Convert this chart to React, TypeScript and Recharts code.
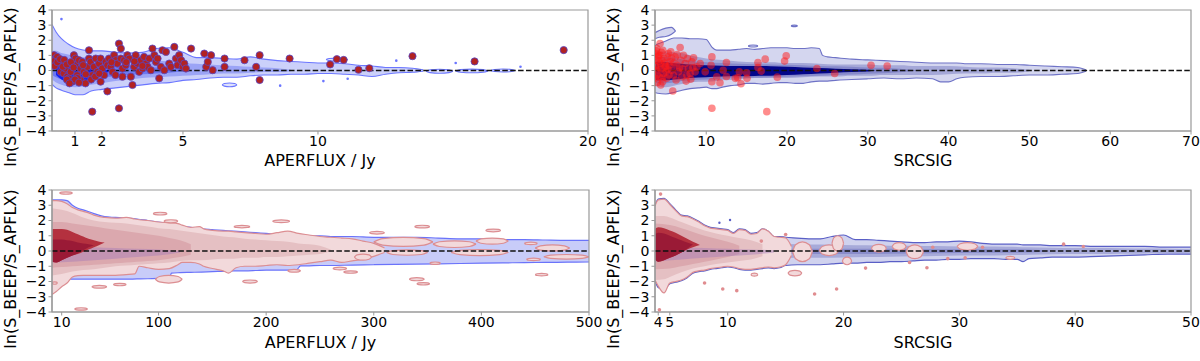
import React from 'react';
import { ComposedChart, Area, Scatter, XAxis, YAxis, ReferenceLine, ReferenceArea } from 'recharts';

// ================= TOP-LEFT : APERFLUX / Jy (0.15 .. 20) =================
const tlTicks = [1, 2, 5, 10, 20];
const tlOuterX = [0.15, 0.3, 0.5, 0.75, 1, 1.3, 1.6, 2, 2.5, 3, 3.5, 4, 4.5, 5, 5.5, 6, 6.5, 7, 7.5, 8, 8.5, 9, 9.5, 10, 10.5, 11, 11.5, 12, 12.5, 13, 13.5, 13.9];
const tlOuterHi = [3.05, 2.55, 2.1, 1.75, 1.5, 1.35, 1.3, 1.3, 1.2, 1.15, 1.2, 1.45, 1.5, 1.2, 0.85, 0.85, 0.8, 0.75, 0.9, 0.75, 0.65, 0.6, 0.55, 0.5, 0.5, 0.45, 0.35, 0.3, 0.2, 0.2, 0.15, 0.05];
const tlOuterLo = [-0.9, -1.15, -1.3, -1.45, -1.6, -1.6, -1.35, -1.25, -1.15, -1.05, -0.95, -0.85, -0.8, -0.65, -0.6, -0.5, -0.45, -0.45, -0.35, -0.3, -0.3, -0.25, -0.25, -0.2, -0.2, -0.25, -0.3, -0.4, -0.25, -0.15, -0.12, -0.05];
const tlMidX = [0.15, 0.3, 0.5, 0.75, 1, 1.3, 1.6, 2, 2.5, 3, 3.5, 4, 4.5, 5, 5.5, 6, 6.5, 7, 7.5, 8, 8.5, 9];
const tlMidHi = [1.3, 1.3, 1.15, 1.05, 0.95, 0.9, 0.85, 0.8, 0.75, 0.75, 0.7, 0.65, 0.6, 0.5, 0.45, 0.4, 0.35, 0.3, 0.25, 0.2, 0.15, 0.05];
const tlMidLo = [-0.6, -0.8, -0.95, -1.05, -1.1, -1.05, -0.95, -0.85, -0.7, -0.6, -0.5, -0.45, -0.4, -0.35, -0.3, -0.25, -0.2, -0.2, -0.15, -0.1, -0.1, -0.05];
const tlInnerX = [0.15, 0.3, 0.5, 0.75, 1, 1.3, 1.6, 2, 2.5, 3, 3.5, 4, 4.5, 5];
const tlInnerHi = [0.7, 0.7, 0.6, 0.55, 0.5, 0.45, 0.4, 0.35, 0.3, 0.3, 0.25, 0.2, 0.15, 0.05];
const tlInnerLo = [-0.3, -0.45, -0.6, -0.65, -0.65, -0.6, -0.55, -0.45, -0.4, -0.3, -0.25, -0.2, -0.15, -0.05];
const tlCoreX = [0.3, 0.5, 0.75, 1, 1.3, 1.6, 2, 2.3];
const tlCoreHi = [0.35, 0.4, 0.35, 0.3, 0.25, 0.2, 0.1, 0];
const tlCoreLo = [-0.3, -0.6, -0.8, -0.8, -0.7, -0.55, -0.35, 0];
// islands: [xStart, xEnd, yCentre, halfHeight]
const tlIslands = [[6.45, 7.0, -0.95, 0.12], [10.3, 11.1, 0.72, 0.1], [14.0, 15.0, -0.05, 0.13], [15.1, 16.3, -0.03, 0.12], [16.4, 17.3, 0.0, 0.1]];
const tlSpecks: [number, number][] = [[0.5, 3.4], [8.6, -1.0], [10.2, -0.7], [11.1, -0.55], [12.9, 0.65], [15.1, 0.5], [17.5, 0.25]];
const tlPoints: [number, number][] = [
  [0.22, 1.01], [0.28, 0.79], [0.34, 0.9], [0.4, 0.46], [0.53, 0.57], [0.47, -0.09], [0.59, -0.2], [0.65, 0.13], [0.71, -0.41], [0.78, -0.52],
  [0.84, -0.09], [0.9, -0.74], [0.96, 1.01], [1.02, 0.79], [1.02, 0.35], [1.08, -0.31], [1.15, 0.68], [1.21, 0.13], [1.21, -0.63], [1.27, 0.57],
  [1.33, -0.09], [1.39, -0.85], [1.46, 0.24], [1.52, 1.34], [1.52, 0.79], [1.58, 0.57], [1.64, -0.31], [1.64, -2.72], [1.7, 0.24], [1.77, 0.79],
  [1.83, -0.09], [1.89, 0.46], [1.95, 0.79], [1.95, -0.74], [2.01, 0.13], [2.08, -0.31], [2.14, 0.57], [2.2, 0.35], [2.26, 0.79], [2.32, 0.24],
  [2.39, -0.09], [2.45, 1.01], [2.51, 0.68], [2.57, 0.46], [2.63, 1.78], [2.63, -2.5], [2.7, 1.45], [2.7, 0.79], [2.76, 0.13], [2.76, -0.41],
  [2.82, 0.68], [2.88, 0.35], [2.94, 1.01], [3.01, 0.79], [3.07, -0.41], [3.13, -0.96], [3.19, 0.24], [3.25, 1.01], [3.32, 0.46], [3.38, -0.09],
  [3.44, 0.68], [3.5, 0.13], [3.56, 0.9], [3.63, 0.46], [3.69, 0.24], [3.75, 0.79], [3.81, 0.02], [3.87, 1.45], [3.94, 1.01], [4.0, 0.57],
  [4.06, 0.79], [4.12, -0.52], [4.18, 0.24], [4.24, 1.34], [4.31, 0.02], [4.37, 1.23], [4.49, 0.46], [4.55, 0.24], [4.68, 1.56], [4.74, 0.79],
  [4.8, 0.35], [4.86, 1.01], [4.93, 0.68], [4.99, 0.24], [5.05, 0.46], [5.11, 0.13], [5.3, 1.45], [5.79, 1.12], [5.86, 0.24], [5.92, 0.57],
  [6.04, 1.01], [6.1, 0.02], [6.54, 0.24], [6.54, 0.79], [7.28, 0.68], [7.71, 0.24], [7.84, 1.01], [7.84, -0.63], [8.95, 0.79], [10.45, 0.4],
  [10.7, 0.75], [10.95, 0.7], [11.5, 0.05], [11.9, 0.15], [13.5, 0.95], [15.8, 0.6], [19.1, 1.35], [2.2, -1.38], [0.2, 0.6], [0.25, 0.3],
  [0.35, 0.55], [0.45, 0.75], [0.55, 0.25], [0.6, 0.7], [0.7, 0.4], [0.85, 0.55], [0.95, 0.2], [1.1, -0.5], [1.3, 0.35], [1.6, -0.6],
  [1.75, -0.4], [1.9, -0.2], [2.5, -0.3], [0.7, -0.6], [1.4, -0.25], [2.9, 0.55], [3.2, 0.6], [3.5, 0.3], [2.35, 0.55], [1.0, -0.6],
  [1.15, -0.8], [0.8, -0.85],
];

// ================= TOP-RIGHT : SRCSIG (3.66 .. 70) =================
const trTicks = [10, 20, 30, 40, 50, 60, 70];
const trOuterX = [3.66, 4, 5, 6, 7, 8, 9, 10, 10.7, 11.3, 12, 13, 14, 15, 16, 17, 18, 19, 20, 21, 22, 23, 24, 24.4, 25, 26, 28, 30, 32, 34, 36, 38, 39, 40, 41, 42, 44, 46, 48, 50, 52, 54, 56, 57];
const trOuterHi = [1.65, 1.75, 1.95, 2.15, 2.15, 2.1, 2.1, 2.05, 1.55, 1.35, 1.35, 1.35, 1.4, 1.45, 1.4, 1.45, 1.5, 1.5, 1.5, 1.45, 1.45, 1.5, 1.45, 1.0, 0.9, 0.85, 0.75, 0.7, 0.65, 0.6, 0.55, 0.5, 0.5, 0.5, 0.5, 0.45, 0.45, 0.4, 0.4, 0.35, 0.3, 0.25, 0.2, 0.05];
const trOuterLo = [-1.45, -1.5, -1.55, -1.45, -1.3, -1.2, -1.15, -1.1, -1.2, -1.2, -1.1, -1.0, -0.95, -0.85, -0.85, -0.9, -0.85, -0.8, -0.8, -0.85, -0.85, -0.75, -0.7, -0.7, -0.7, -0.65, -0.6, -0.55, -0.5, -0.55, -0.5, -0.55, -0.75, -0.75, -0.55, -0.45, -0.4, -0.4, -0.35, -0.3, -0.3, -0.25, -0.2, -0.05];
const trMidX = [3.66, 4, 5, 6, 7, 8, 9, 10, 12, 14, 16, 18, 20, 22, 24, 26, 28, 30, 32, 34, 36, 38, 40, 42, 44, 46, 48, 50];
const trMidHi = [1.2, 1.25, 1.25, 1.2, 1.15, 1.0, 0.9, 0.8, 0.7, 0.6, 0.55, 0.55, 0.5, 0.5, 0.45, 0.4, 0.4, 0.4, 0.35, 0.35, 0.3, 0.3, 0.3, 0.25, 0.2, 0.2, 0.15, 0.05];
const trMidLo = [-1.0, -1.05, -1.1, -1.0, -0.9, -0.8, -0.75, -0.75, -0.65, -0.6, -0.5, -0.5, -0.5, -0.45, -0.4, -0.4, -0.35, -0.35, -0.3, -0.3, -0.3, -0.3, -0.25, -0.2, -0.2, -0.15, -0.15, -0.05];
const trInnerX = [3.66, 4, 5, 6, 7, 8, 10, 12, 14, 16, 18, 20, 22, 24, 26, 28, 30, 32, 34, 36];
const trInnerHi = [0.85, 0.9, 0.9, 0.85, 0.75, 0.65, 0.55, 0.5, 0.45, 0.42, 0.4, 0.38, 0.35, 0.3, 0.28, 0.25, 0.2, 0.18, 0.12, 0.02];
const trInnerLo = [-0.8, -0.85, -0.85, -0.8, -0.7, -0.65, -0.6, -0.55, -0.5, -0.48, -0.45, -0.42, -0.38, -0.35, -0.3, -0.27, -0.22, -0.18, -0.12, -0.02];
const trCoreX = [3.66, 4, 5, 6, 7, 8, 10, 12, 14, 16, 18, 20, 22, 24, 26, 28, 30, 31];
const trCoreHi = [0.55, 0.6, 0.55, 0.5, 0.45, 0.4, 0.35, 0.32, 0.3, 0.3, 0.28, 0.25, 0.2, 0.16, 0.12, 0.08, 0.05, 0.02];
const trCoreLo = [-0.6, -0.65, -0.65, -0.6, -0.55, -0.5, -0.45, -0.4, -0.38, -0.36, -0.34, -0.3, -0.25, -0.2, -0.15, -0.1, -0.06, 0.02];
const trLobeX = [3.66, 4.2, 5, 5.7, 6.2];
const trLobeHi = [2.5, 2.65, 2.8, 2.85, 2.6];
const trLobeLo = [2.1, 2.2, 2.25, 2.4, 2.6];
const trIslands = [[15.2, 16.4, 1.62, 0.07], [20.5, 21.3, 2.95, 0.05]];
const trPoints: [number, number][] = [
  [3.87, 1.45], [4.08, 1.01], [3.79, 0.68], [4.28, 0.46], [3.87, 0.02], [4.2, -0.41], [3.95, -0.79], [4.37, -0.96], [4.62, 1.34], [4.78, 0.79],
  [4.91, 0.24], [4.7, -0.2], [5.11, -0.52], [5.32, 1.12], [5.53, 0.57], [5.73, 0.02], [5.94, -0.31], [5.86, -1.36], [6.15, 0.9], [6.35, 0.35],
  [6.56, -0.09], [6.77, 1.52], [6.85, 0.68], [6.98, -0.41], [7.18, 1.01], [7.39, 0.46], [7.51, -0.7], [7.68, 0.79], [7.8, 0.13], [8.01, -0.2],
  [8.22, 0.57], [8.43, 0.84], [8.63, -0.09], [8.84, 0.24], [9.25, 0.46], [9.87, -0.09], [4.28, 1.01], [4.49, 0.68], [3.75, 1.12], [5.03, -0.09],
  [5.44, 0.35], [5.61, 1.23], [6.27, -0.63], [6.69, 0.18], [7.1, 0.09], [7.6, -0.31], [8.09, -0.57], [8.34, 0.18], [4.28, 1.78], [3.8, 1.3],
  [4.0, 0.9], [4.15, 0.2], [4.4, 0.1], [4.55, -0.5], [4.85, 0.5], [5.2, 0.9], [5.0, 0.3], [5.4, -0.3], [5.7, 0.8], [6.0, 0.5],
  [6.4, 1.05], [4.6, -0.75], [3.9, -0.3], [4.1, 0.6], [3.7, 0.3], [3.7, -0.5], [4.45, 1.2], [5.25, 0.1], [10.7, 0.9], [10.6, 0.35],
  [10.7, -0.74], [11.7, -0.81], [11.3, -0.41], [12.1, 0.02], [12.5, 0.53], [12.5, -0.4], [13.6, -0.52], [13.9, -0.48], [14.3, -0.88], [14.1, -0.09],
  [15.0, -0.15], [15.05, -0.52], [16.4, 0.53], [16.4, 0.2], [16.8, -0.04], [17.3, 0.75], [18.8, -0.44], [19.7, 0.62], [19.9, 0.97], [23.7, 0.13],
  [25.9, -0.2], [30.4, 0.35], [32.4, 0.29], [10.7, -2.5], [17.5, -2.72],
];

// ================= BOTTOM-LEFT : APERFLUX / Jy (1 .. 500) =================
const blTicks = [10, 100, 200, 300, 400, 500];
const blBlueX = [1, 10, 15, 20, 25, 30, 40, 50, 60, 70, 80, 90, 100, 110, 112, 120, 130, 140, 150, 160, 170, 180, 190, 200, 210, 220, 228, 232, 240, 250, 260, 280, 300, 320, 340, 360, 380, 400, 420, 440, 460, 480, 500];
const blBlueHi = [3.35, 3.35, 3.3, 3.0, 2.8, 2.7, 2.45, 2.25, 2.2, 2.15, 2.1, 2.0, 1.9, 1.8, 1.78, 1.65, 1.55, 1.45, 1.4, 1.35, 1.3, 1.25, 1.2, 1.15, 1.1, 1.05, 1.05, 1.05, 1.0, 1.0, 0.95, 0.95, 0.9, 0.9, 0.9, 0.85, 0.8, 0.8, 0.75, 0.75, 0.72, 0.7, 0.7];
const blBlueLo = [-1.85, -1.85, -1.85, -1.85, -1.85, -1.85, -1.85, -1.85, -1.85, -1.85, -1.83, -1.82, -1.8, -1.8, -1.45, -1.42, -1.4, -1.38, -1.35, -1.33, -1.3, -1.3, -1.28, -1.25, -1.25, -1.25, -1.25, -0.98, -0.97, -0.95, -0.95, -0.92, -0.9, -0.88, -0.86, -0.84, -0.82, -0.8, -0.78, -0.76, -0.75, -0.73, -0.72];
const blBlueMidX = [180, 200, 220, 240, 260, 280, 295];
const blBlueMidHi = [0.1, 0.1, 0.05, 0.05, 0.0, -0.05, -0.15];
const blBlueMidLo = [-0.3, -0.35, -0.35, -0.35, -0.35, -0.3, -0.2];
const blPinkX = [1, 5, 10, 15, 20, 25, 30, 35, 40, 45, 50, 60, 70, 78, 82, 90, 100, 110, 118, 122, 130, 138, 142, 150, 160, 165, 172, 180, 190, 200, 210, 220, 230, 240, 250, 260, 270, 280, 290, 300, 310];
const blPinkHi = [3.3, 3.3, 3.25, 3.1, 2.85, 2.7, 2.6, 2.5, 2.35, 2.25, 2.2, 2.15, 2.2, 2.1, 2.05, 2.0, 1.9, 1.85, 1.8, 1.7, 1.55, 1.6, 1.45, 1.35, 1.3, 1.3, 1.25, 1.2, 1.15, 1.1, 1.2, 1.3, 1.15, 1.05, 0.95, 0.9, 0.85, 0.8, 0.65, 0.5, 0.2];
const blPinkLo = [-2.85, -2.65, -2.35, -2.1, -1.7, -1.62, -1.6, -1.6, -1.6, -1.6, -1.6, -1.6, -1.55, -1.5, -1.0, -1.1, -1.2, -1.15, -0.9, -0.75, -0.75, -0.85, -1.0, -1.15, -1.3, -1.45, -1.1, -1.0, -1.0, -0.95, -0.9, -0.95, -0.9, -0.8, -0.7, -0.6, -0.75, -0.65, -0.55, -0.35, -0.1];
const blPinkMidX = [1, 10, 20, 30, 40, 50, 60, 70, 80, 90, 100, 110, 120, 130, 140, 150, 160, 170, 180, 190, 200, 210, 220, 230, 240, 250, 260];
const blPinkMidHi = [2.8, 2.7, 2.5, 2.2, 2.0, 1.9, 1.85, 1.8, 1.7, 1.6, 1.5, 1.45, 1.35, 1.25, 1.15, 1.05, 0.95, 0.9, 0.8, 0.75, 0.7, 0.65, 0.6, 0.5, 0.45, 0.35, 0.1];
const blPinkMidLo = [-1.6, -1.5, -1.35, -1.25, -1.2, -1.1, -1.0, -0.95, -0.9, -0.85, -0.8, -0.75, -0.65, -0.6, -0.6, -0.55, -0.5, -0.5, -0.45, -0.45, -0.4, -0.4, -0.35, -0.3, -0.25, -0.2, 0.0];
const blPink3X = [1, 10, 20, 30, 40, 50, 60, 70, 80, 90, 100, 110, 120, 130];
const blPink3Hi = [1.9, 1.9, 1.8, 1.7, 1.6, 1.5, 1.4, 1.3, 1.2, 1.1, 1.0, 0.85, 0.7, 0.45];
const blPink3Lo = [-1.1, -1.05, -1.0, -0.95, -0.9, -0.85, -0.8, -0.75, -0.7, -0.65, -0.6, -0.5, -0.4, -0.25];
const blPurpleX = [1, 20, 40, 60, 80, 100, 120];
const blPurpleHi = [0.35, 0.3, 0.25, 0.2, 0.15, 0.1, 0.0];
const blPurpleLo = [-0.75, -0.7, -0.6, -0.5, -0.4, -0.3, -0.1];
const blCrimsonX = [1, 5, 10, 15, 20, 25, 30, 35, 40, 45, 50];
const blCrimsonHi = [1.45, 1.45, 1.45, 1.4, 1.25, 1.1, 0.95, 0.8, 0.7, 0.6, 0.55];
const blCrimsonLo = [-0.7, -0.75, -0.6, -0.45, -0.3, -0.2, -0.05, 0.1, 0.25, 0.4, 0.55];
const blDarkX = [1, 5, 10, 15, 20, 25, 30, 35, 40];
const blDarkHi = [0.75, 0.75, 0.75, 0.7, 0.65, 0.55, 0.5, 0.45, 0.38];
const blDarkLo = [-0.7, -0.75, -0.6, -0.45, -0.3, -0.15, 0.05, 0.25, 0.38];
const blIslands = [
  [300, 355, 0.6, 0.3], [312, 350, -0.1, 0.18], [355, 395, 0.45, 0.22], [372, 425, -0.1, 0.2], [395, 425, 0.65, 0.2],
  [450, 482, 0.2, 0.2], [458, 500, -0.38, 0.15], [282, 298, -0.4, 0.2], [97, 122, -1.85, 0.25],
  [8, 20, 3.8, 0.08], [95, 108, 2.45, 0.09], [105, 118, 1.95, 0.1], [170, 185, 1.6, 0.08], [206, 222, 1.95, 0.09],
  [296, 310, 1.2, 0.09], [338, 352, 1.6, 0.09], [404, 418, 1.35, 0.09], [440, 452, 0.5, 0.08], [442, 455, -0.55, 0.08],
  [450, 462, -1.55, 0.08], [333, 347, -1.85, 0.1], [340, 352, -2.15, 0.08], [178, 192, -2.0, 0.1], [58, 70, -2.2, 0.08],
  [38, 52, -2.35, 0.09], [22, 34, -3.8, 0.08], [352, 362, -0.8, 0.08], [220, 232, -1.3, 0.09], [262, 275, -1.15, 0.09],
  [272, 285, -1.38, 0.08], [1, 6, -2.1, 0.08],
];

// ================= BOTTOM-RIGHT : SRCSIG (3.72 .. 50) =================
const brTicks = [4, 5, 10, 20, 30, 40, 50];
const brBlueX = [3.72, 4, 4.5, 5, 5.5, 6, 6.5, 7, 7.5, 8, 8.5, 9, 9.5, 10, 10.5, 11, 11.5, 12, 12.5, 13, 13.5, 14, 14.5, 15, 16, 17, 18, 19, 20, 21, 22, 23, 24, 25, 26, 27, 28, 29, 30, 31, 32, 33, 34, 35, 35.5, 36, 37, 38, 40, 42, 44, 46, 48, 50];
const brBlueHi = [3.0, 3.4, 3.45, 3.1, 2.7, 2.35, 2.3, 2.15, 1.95, 1.7, 1.55, 1.5, 1.45, 1.4, 1.2, 1.45, 1.4, 1.15, 1.2, 1.45, 1.3, 0.95, 0.95, 0.9, 0.85, 0.8, 0.8, 0.95, 1.05, 0.75, 0.75, 0.7, 0.65, 0.6, 0.55, 0.55, 0.6, 0.6, 0.65, 0.6, 0.5, 0.45, 0.45, 0.45, 0.4, 0.4, 0.4, 0.35, 0.35, 0.3, 0.3, 0.3, 0.25, 0.25];
const brBlueLo = [-1.95, -2.4, -2.55, -2.15, -2.05, -1.95, -1.75, -1.45, -1.35, -1.3, -1.2, -1.15, -1.1, -1.05, -1.1, -1.2, -1.25, -1.25, -1.2, -1.15, -1.1, -1.15, -1.1, -0.95, -0.9, -0.9, -0.9, -0.85, -0.8, -0.8, -0.75, -0.75, -0.7, -0.7, -0.65, -0.6, -0.6, -0.55, -0.55, -0.5, -0.5, -0.5, -0.55, -0.55, -0.7, -0.5, -0.45, -0.4, -0.4, -0.35, -0.3, -0.25, -0.2, -0.2];
const brBlueMidX = [3.72, 6, 8, 10, 12, 14, 16, 18, 20, 22, 24, 26, 28, 30, 32, 34, 36, 38, 40, 42, 44, 46, 48, 50];
const brBlueMidHi = [1.5, 1.2, 0.9, 0.7, 0.6, 0.5, 0.45, 0.42, 0.4, 0.38, 0.35, 0.35, 0.32, 0.3, 0.3, 0.28, 0.25, 0.22, 0.2, 0.2, 0.18, 0.16, 0.15, 0.12];
const brBlueMidLo = [-1.3, -1.0, -0.8, -0.65, -0.55, -0.5, -0.45, -0.45, -0.42, -0.4, -0.38, -0.35, -0.33, -0.3, -0.3, -0.28, -0.25, -0.22, -0.2, -0.2, -0.18, -0.16, -0.15, -0.12];
const brBlueInX = [13, 16, 20, 24, 28, 32, 36, 38];
const brBlueInHi = [0.1, 0.15, 0.15, 0.15, 0.12, 0.12, 0.1, 0.0];
const brBlueInLo = [-0.15, -0.2, -0.2, -0.18, -0.15, -0.12, -0.1, 0.0];
const brPinkX = [3.72, 4, 4.5, 5, 5.5, 6, 6.5, 7, 7.5, 8, 8.5, 9, 9.5, 10, 10.5, 11, 11.5, 12, 12.5, 13, 13.5, 14, 14.5, 15, 15.5];
const brPinkHi = [2.95, 3.35, 3.4, 3.05, 2.65, 2.3, 2.25, 2.1, 1.9, 1.65, 1.5, 1.45, 1.4, 1.35, 1.15, 1.4, 1.35, 1.1, 1.15, 1.45, 1.3, 0.95, 0.9, 0.85, 0.3];
const brPinkLo = [-1.9, -2.3, -2.75, -2.1, -2.0, -1.9, -1.7, -1.4, -1.3, -1.25, -1.15, -1.1, -1.05, -1.0, -1.05, -1.15, -1.2, -1.2, -1.15, -1.1, -1.05, -1.1, -1.05, -0.9, -0.3];
const brPinkMidX = [3.72, 4.5, 5, 6, 7, 8, 9, 10, 11, 12, 13];
const brPinkMidHi = [2.3, 2.3, 2.2, 1.9, 1.6, 1.35, 1.15, 1.0, 0.85, 0.7, 0.45];
const brPinkMidLo = [-1.9, -1.85, -1.7, -1.4, -1.15, -1.0, -0.85, -0.75, -0.65, -0.55, -0.35];
const brPink3X = [3.72, 5, 6, 7, 8, 9, 10, 11];
const brPink3Hi = [1.8, 1.7, 1.5, 1.25, 1.0, 0.8, 0.6, 0.35];
const brPink3Lo = [-1.2, -1.15, -1.0, -0.85, -0.7, -0.55, -0.4, -0.2];
const brPurpleX = [3.72, 6, 8, 10, 12, 14];
const brPurpleHi = [0.3, 0.25, 0.2, 0.15, 0.1, 0.05];
const brPurpleLo = [-0.7, -0.55, -0.45, -0.35, -0.25, -0.1];
const brCrimsonX = [3.72, 4, 4.5, 5, 5.5, 6, 6.5, 7, 7.6];
const brCrimsonHi = [1.45, 1.55, 1.5, 1.35, 1.2, 1.0, 0.8, 0.6, 0.4];
const brCrimsonLo = [-0.55, -0.7, -0.6, -0.45, -0.3, -0.1, 0.1, 0.25, 0.4];
const brDarkX = [3.72, 4, 4.5, 5, 5.5, 6, 6.5, 7];
const brDarkHi = [1.1, 1.2, 1.15, 1.0, 0.85, 0.7, 0.55, 0.42];
const brDarkLo = [-0.55, -0.7, -0.6, -0.45, -0.3, -0.1, 0.15, 0.42];
const brIslands = [
  [15.6, 17.3, -0.05, 0.65], [17.9, 19.6, 0.05, 0.35], [19.0, 20.0, 0.5, 0.5], [19.9, 20.7, -0.65, 0.25], [22.4, 23.7, 0.18, 0.25],
  [24.2, 25.4, 0.3, 0.25], [25.4, 26.9, -0.05, 0.45], [29.8, 31.6, 0.3, 0.25], [34.0, 34.8, -0.45, 0.1], [15.2, 16.4, -1.45, 0.18],
  [12.0, 12.6, -1.55, 0.1],
];
const brPinkSpecks: [number, number][] = [
  [4.2, 3.73], [4.1, -3.86], [8.0, -2.1], [9.57, -2.49], [10.78, -2.6], [15.0, 1.08], [17.5, -2.82], [19.4, -2.49], [21.9, -1.12],
  [12.9, 0.65], [25.7, -0.75], [27.2, -1.1], [29.0, -0.5], [30.5, -0.45], [27.7, 0.25], [32.0, 0.25], [39.0, 0.45], [40.7, 0.3],
];
const brBlueSpecks: [number, number][] = [[9.28, 1.85], [10.2, 2.03]];

const yTicks = [-4, -3, -2, -1, 0, 1, 2, 3, 4];

// ---------------------------------------------------------------------------
type Level = { xs: number[]; lo: number[]; hi: number[]; fill: string; stroke?: string; sw?: number; op?: number };
type IslandSet = { list: number[][]; fill: string; stroke: string; sw?: number };
type Specks = { pts: [number, number][]; fill: string; r: number; stroke?: string; op?: number };

function buildRows(prefix: string, levels: Level[], islandSets: IslandSet[]) {
  const rows: any[] = [];
  levels.forEach((lv, li) => {
    const key = `${prefix}L${li}`;
    lv.xs.forEach((x, i) => rows.push({ x, [key]: [lv.lo[i], lv.hi[i]] }));
  });
  islandSets.forEach((set, si) =>
    set.list.forEach(([x0, x1, c, h], j) => {
      const key = `${prefix}I${si}_${j}`;
      const w = x1 - x0;
      rows.push({ x: x0, [key]: [c, c] });
      rows.push({ x: x0 + 0.15 * w, [key]: [c - 0.71 * h, c + 0.71 * h] });
      rows.push({ x: x0 + 0.5 * w, [key]: [c - h, c + h] });
      rows.push({ x: x1 - 0.15 * w, [key]: [c - 0.71 * h, c + 0.71 * h] });
      rows.push({ x: x1, [key]: [c, c] });
    })
  );
  rows.sort((a, b) => a.x - b.x);
  return rows;
}

const fmtY = (v: number) => (v < 0 ? '\u2212' + Math.abs(v) : String(v));
const FONT = 'DejaVu Sans';

type PanelProps = {
  id: string;
  width: number;
  height: number;
  margin: { top: number; right: number; bottom: number; left: number };
  yWidth: number;
  xHeight: number;
  labelOffset: number;
  domain: [number, number];
  ticks: number[];
  xLabel: string;
  levels: Level[];
  islands: IslandSet[];
  specks: Specks[];
  points?: { pts: [number, number][]; fill: string; stroke?: string; sw?: number; r: number; op?: number };
};

function Panel(p: PanelProps) {
  const rows = buildRows(p.id, p.levels, p.islands);
  const pointsData = p.points ? p.points.pts.map(([x, y]) => ({ x, y })) : [];
  return (
    <ComposedChart width={p.width} height={p.height} data={rows} margin={p.margin}>
      <XAxis
        type="number"
        dataKey="x"
        domain={p.domain}
        ticks={p.ticks}
        interval={0}
        allowDataOverflow
        height={p.xHeight}
        tickSize={3.5}
        tickMargin={2}
        axisLine={{ stroke: '#999', strokeWidth: 1.2 }}
        tickLine={{ stroke: '#999' }}
        tick={{ fontSize: 14, fill: '#000', fontFamily: FONT }}
        label={{ value: p.xLabel, position: 'insideBottom', offset: p.labelOffset, fontSize: 16, fill: '#000', fontFamily: FONT }}
      />
      <YAxis
        type="number"
        domain={[-4, 4]}
        ticks={yTicks}
        interval={0}
        allowDataOverflow
        width={p.yWidth}
        tickSize={3.5}
        tickMargin={2}
        tickFormatter={fmtY}
        axisLine={{ stroke: '#999', strokeWidth: 1.2 }}
        tickLine={{ stroke: '#999' }}
        tick={{ fontSize: 14, fill: '#000', fontFamily: FONT }}
      />
      {p.levels.map((lv, li) => (
        <Area
          key={`${p.id}L${li}`}
          dataKey={`${p.id}L${li}`}
          type="monotone"
          connectNulls
          isAnimationActive={false}
          fill={lv.fill}
          fillOpacity={lv.op ?? 1}
          stroke={lv.stroke ?? 'none'}
          strokeWidth={lv.sw ?? 1.2}
          dot={false}
          activeDot={false}
        />
      ))}
      {p.islands.map((set, si) =>
        set.list.map((_, j) => (
          <Area
            key={`${p.id}I${si}_${j}`}
            dataKey={`${p.id}I${si}_${j}`}
            type="monotone"
            connectNulls
            isAnimationActive={false}
            fill={set.fill}
            fillOpacity={1}
            stroke={set.stroke}
            strokeWidth={set.sw ?? 1.2}
            dot={false}
            activeDot={false}
          />
        ))
      )}
      <ReferenceLine y={0} stroke="#111" strokeWidth={1.4} strokeDasharray="5.5 2.4" />
      {p.specks.map((s, si) => (
        <Scatter
          key={`${p.id}S${si}`}
          data={s.pts.map(([x, y]) => ({ x, y }))}
          dataKey="y"
          isAnimationActive={false}
          shape={(props: any) => (
            <circle cx={props.cx} cy={props.cy} r={s.r} fill={s.fill} fillOpacity={s.op ?? 1} stroke={s.stroke ?? 'none'} />
          )}
        />
      ))}
      {p.points && (
        <Scatter
          data={pointsData}
          dataKey="y"
          isAnimationActive={false}
          shape={(props: any) => (
            <circle
              cx={props.cx}
              cy={props.cy}
              r={p.points!.r}
              fill={p.points!.fill}
              fillOpacity={p.points!.op ?? 1}
              stroke={p.points!.stroke ?? 'none'}
              strokeWidth={p.points!.sw ?? 0}
            />
          )}
        />
      )}
      <ReferenceArea x1={p.domain[0]} x2={p.domain[1]} y1={-4} y2={4} fill="none" stroke="#999" strokeWidth={1.2} ifOverflow="visible" />
    </ComposedChart>
  );
}

// colours
const PINK_OUT = '#f2d9db';
const PINK_LINE = '#dc8e92';

const tlLevels: Level[] = [
  { xs: tlOuterX, lo: tlOuterLo, hi: tlOuterHi, fill: '#cbd0fa', stroke: '#6b76ff', sw: 1.1 },
  { xs: tlMidX, lo: tlMidLo, hi: tlMidHi, fill: '#9ba4f6' },
  { xs: tlInnerX, lo: tlInnerLo, hi: tlInnerHi, fill: '#6c78f2' },
  { xs: tlCoreX, lo: tlCoreLo, hi: tlCoreHi, fill: '#0f1ff5' },
];
const trLevels: Level[] = [
  { xs: trOuterX, lo: trOuterLo, hi: trOuterHi, fill: '#d4d6ef', stroke: '#6e72c6', sw: 1.1 },
  { xs: trLobeX, lo: trLobeLo, hi: trLobeHi, fill: '#d4d6ef', stroke: '#6e72c6', sw: 1.1 },
  { xs: trMidX, lo: trMidLo, hi: trMidHi, fill: '#a5a8d8' },
  { xs: trInnerX, lo: trInnerLo, hi: trInnerHi, fill: '#8689cb' },
  { xs: trCoreX, lo: trCoreLo, hi: trCoreHi, fill: '#03068a' },
];
const blLevels: Level[] = [
  { xs: blBlueX, lo: blBlueLo, hi: blBlueHi, fill: '#c8ccf9', stroke: '#6a73fa', sw: 1.2 },
  { xs: blBlueMidX, lo: blBlueMidLo, hi: blBlueMidHi, fill: '#9fa6f2' },
  { xs: blPinkX, lo: blPinkLo, hi: blPinkHi, fill: PINK_OUT, stroke: PINK_LINE, sw: 1.2 },
  { xs: blPinkMidX, lo: blPinkMidLo, hi: blPinkMidHi, fill: '#e5c0c3' },
  { xs: blPink3X, lo: blPink3Lo, hi: blPink3Hi, fill: '#dba8ae' },
  { xs: blPurpleX, lo: blPurpleLo, hi: blPurpleHi, fill: '#a37bb8', op: 0.45 },
  { xs: blCrimsonX, lo: blCrimsonLo, hi: blCrimsonHi, fill: '#b4313f' },
  { xs: blDarkX, lo: blDarkLo, hi: blDarkHi, fill: '#9a1a36' },
];
const brLevels: Level[] = [
  { xs: brBlueX, lo: brBlueLo, hi: brBlueHi, fill: '#d0d2ee', stroke: '#5a5fc6', sw: 1.2 },
  { xs: brBlueMidX, lo: brBlueMidLo, hi: brBlueMidHi, fill: '#a7aad9' },
  { xs: brBlueInX, lo: brBlueInLo, hi: brBlueInHi, fill: '#8a8dcb' },
  { xs: brPinkX, lo: brPinkLo, hi: brPinkHi, fill: PINK_OUT, stroke: PINK_LINE, sw: 1.2 },
  { xs: brPinkMidX, lo: brPinkMidLo, hi: brPinkMidHi, fill: '#e5c0c3' },
  { xs: brPink3X, lo: brPink3Lo, hi: brPink3Hi, fill: '#dba8ae' },
  { xs: brPurpleX, lo: brPurpleLo, hi: brPurpleHi, fill: '#a37bb8', op: 0.45 },
  { xs: brCrimsonX, lo: brCrimsonLo, hi: brCrimsonHi, fill: '#b4313f' },
  { xs: brDarkX, lo: brDarkLo, hi: brDarkHi, fill: '#9a1a36' },
];

const yLabelStyle = (cx: number, cy: number): React.CSSProperties => ({
  position: 'absolute',
  left: cx,
  top: cy,
  transform: 'translate(-50%, -50%) rotate(-90deg)',
  whiteSpace: 'nowrap',
  fontSize: 16,
  lineHeight: '18px',
  fontFamily: FONT,
  color: '#000',
});

const Y_LABEL = 'ln(S_BEEP/S_APFLX)';

export default function App() {
  return (
    <div style={{ position: 'absolute', left: 0, top: 0, width: 1200, height: 361, background: '#fff', fontFamily: FONT, overflow: 'hidden' }}>
      <div style={{ position: 'absolute', left: 0, top: 0 }}>
        <Panel
          id="tl"
          width={612}
          height={180}
          margin={{ top: 10, right: 24, bottom: 0, left: 0 }}
          yWidth={52}
          xHeight={49}
          labelOffset={14}
          domain={[0.15, 20]}
          ticks={tlTicks}
          xLabel="APERFLUX / Jy"
          levels={tlLevels}
          islands={[{ list: tlIslands, fill: '#dfe2fc', stroke: '#6b76ff', sw: 1.1 }]}
          specks={[{ pts: tlSpecks, fill: '#6b76ff', r: 1.3 }]}
          points={{ pts: tlPoints, fill: '#b22222', stroke: '#5546c8', sw: 0.8, r: 3.6 }}
        />
      </div>
      <div style={{ position: 'absolute', left: 0, top: 180 }}>
        <Panel
          id="bl"
          width={620}
          height={181}
          margin={{ top: 10, right: 31, bottom: 0, left: 0 }}
          yWidth={52}
          xHeight={49}
          labelOffset={13}
          domain={[1, 500]}
          ticks={blTicks}
          xLabel="APERFLUX / Jy"
          levels={blLevels}
          islands={[{ list: blIslands, fill: PINK_OUT, stroke: PINK_LINE, sw: 1.2 }]}
          specks={[]}
        />
      </div>
      <div style={{ position: 'absolute', left: 600, top: 0 }}>
        <Panel
          id="tr"
          width={600}
          height={180}
          margin={{ top: 10, right: 9, bottom: 0, left: 0 }}
          yWidth={55}
          xHeight={49}
          labelOffset={14}
          domain={[3.66, 70]}
          ticks={trTicks}
          xLabel="SRCSIG"
          levels={trLevels}
          islands={[{ list: trIslands, fill: '#d4d6ef', stroke: '#6e72c6', sw: 1.1 }]}
          specks={[]}
          points={{ pts: trPoints, fill: '#ff1a1a', r: 3.8, op: 0.5 }}
        />
      </div>
      <div style={{ position: 'absolute', left: 600, top: 180 }}>
        <Panel
          id="br"
          width={600}
          height={181}
          margin={{ top: 10, right: 9, bottom: 0, left: 0 }}
          yWidth={55}
          xHeight={49}
          labelOffset={13}
          domain={[3.72, 50]}
          ticks={brTicks}
          xLabel="SRCSIG"
          levels={brLevels}
          islands={[{ list: brIslands, fill: PINK_OUT, stroke: PINK_LINE, sw: 1.2 }]}
          specks={[
            { pts: brPinkSpecks, fill: '#e08c8f', r: 1.8 },
            { pts: brBlueSpecks, fill: '#5a5fc6', r: 1.2 },
          ]}
        />
      </div>
      <div style={yLabelStyle(11, 87)}>{Y_LABEL}</div>
      <div style={yLabelStyle(614, 87)}>{Y_LABEL}</div>
      <div style={yLabelStyle(11, 269)}>{Y_LABEL}</div>
      <div style={yLabelStyle(614, 269)}>{Y_LABEL}</div>
    </div>
  );
}
